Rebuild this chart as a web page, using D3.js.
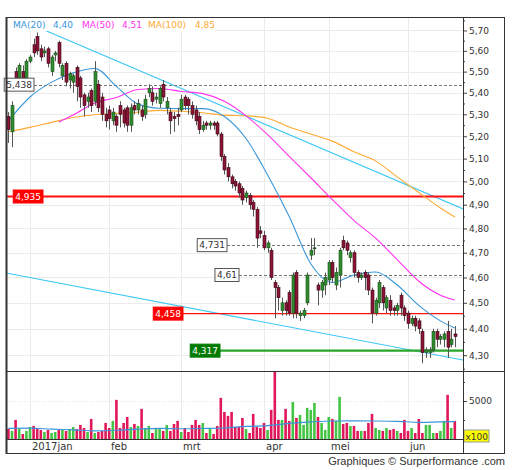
<!DOCTYPE html>
<html><head><meta charset="utf-8">
<script src="https://cdn.jsdelivr.net/npm/d3@7"></script>
<style>body{margin:0;background:#fff} svg{display:block}</style>
</head><body>
<svg id="c" width="512" height="470"></svg>
<script>
// ---------- DATA ----------
const openP = [5.29,5.22,5.50,5.47,5.50,5.47,5.55,5.63,5.67,5.61,
5.59,5.61,5.50,5.58,5.64,5.48,5.54,5.46,5.45,5.52,
5.47,5.39,5.36,5.41,5.36,5.44,5.38,5.30,5.32,5.27,
5.29,5.34,5.32,5.33,5.25,5.34,5.32,5.32,5.30,5.40,
5.40,5.37,5.35,5.44,5.33,5.31,5.29,5.30,5.32,5.38,
5.37,5.34,5.32,5.29,5.23,5.26,5.25,5.26,5.26,5.21,
5.11,5.06,5.02,5.00,4.99,4.97,4.93,4.94,4.91,4.88,
4.79,4.77,4.72,4.71,4.58,4.56,4.47,4.50,4.54,4.46,
4.62,4.45,4.45,4.50,4.69,4.72,4.57,4.55,4.57,4.59,
4.66,4.57,4.61,4.75,4.74,4.68,4.70,4.62,4.60,4.62,
4.61,4.55,4.46,4.50,4.56,4.48,4.51,4.48,4.47,4.53,
4.48,4.46,4.42,4.44,4.43,4.39,4.31,4.31,4.32,4.39,
4.36,4.36,4.39,4.34,4.38];
const highP = [5.31,5.36,5.52,5.54,5.53,5.56,5.58,5.66,5.69,5.63,
5.62,5.62,5.58,5.60,5.65,5.54,5.55,5.50,5.49,5.53,
5.48,5.40,5.40,5.42,5.55,5.46,5.40,5.33,5.34,5.33,
5.30,5.36,5.33,5.34,5.35,5.36,5.37,5.34,5.39,5.44,
5.43,5.40,5.43,5.46,5.38,5.33,5.31,5.33,5.39,5.39,
5.38,5.36,5.34,5.31,5.27,5.27,5.27,5.27,5.27,5.22,
5.12,5.08,5.03,5.01,5.00,4.98,4.96,4.95,4.92,4.89,
4.81,4.79,4.75,4.72,4.59,4.57,4.52,4.51,4.55,4.62,
4.63,4.47,4.48,4.62,4.76,4.76,4.58,4.59,4.62,4.67,
4.67,4.64,4.72,4.77,4.75,4.71,4.71,4.63,4.62,4.63,
4.62,4.56,4.52,4.59,4.57,4.53,4.53,4.49,4.50,4.54,
4.49,4.47,4.45,4.45,4.44,4.40,4.33,4.33,4.40,4.40,
4.38,4.39,4.43,4.40,4.41];
const lowP = [5.17,5.15,5.42,5.45,5.43,5.45,5.54,5.57,5.58,5.55,
5.57,5.52,5.48,5.55,5.52,5.46,5.43,5.42,5.40,5.36,
5.33,5.29,5.33,5.31,5.34,5.31,5.27,5.24,5.23,5.25,
5.22,5.24,5.24,5.22,5.22,5.30,5.30,5.27,5.28,5.38,
5.34,5.35,5.33,5.36,5.30,5.21,5.22,5.25,5.31,5.32,
5.30,5.28,5.25,5.21,5.22,5.23,5.23,5.23,5.20,5.09,
5.03,5.00,4.97,4.96,4.93,4.90,4.91,4.88,4.85,4.72,
4.76,4.71,4.70,4.59,4.44,4.47,4.45,4.45,4.45,4.44,
4.44,4.43,4.44,4.49,4.67,4.69,4.49,4.52,4.53,4.57,
4.58,4.55,4.56,4.71,4.69,4.66,4.60,4.58,4.59,4.55,
4.53,4.42,4.45,4.48,4.47,4.46,4.45,4.45,4.45,4.45,
4.43,4.40,4.41,4.39,4.38,4.27,4.29,4.29,4.31,4.33,
4.34,4.33,4.29,4.33,4.33];
const closeP = [5.23,5.34,5.44,5.53,5.45,5.55,5.57,5.59,5.60,5.57,
5.60,5.54,5.57,5.59,5.54,5.53,5.45,5.49,5.48,5.43,
5.38,5.34,5.38,5.34,5.50,5.33,5.30,5.27,5.28,5.31,
5.25,5.30,5.26,5.25,5.33,5.32,5.35,5.29,5.37,5.42,
5.36,5.38,5.42,5.38,5.36,5.27,5.28,5.29,5.37,5.34,
5.34,5.30,5.27,5.23,5.25,5.25,5.26,5.25,5.21,5.11,
5.05,5.02,4.99,4.98,4.95,4.92,4.95,4.90,4.88,4.76,
4.78,4.72,4.74,4.60,4.56,4.52,4.50,4.47,4.46,4.61,
4.46,4.46,4.47,4.61,4.71,4.72,4.55,4.58,4.60,4.66,
4.60,4.62,4.71,4.72,4.71,4.70,4.62,4.60,4.61,4.60,
4.55,4.46,4.51,4.58,4.50,4.52,4.47,4.47,4.49,4.48,
4.45,4.42,4.44,4.41,4.40,4.31,4.32,4.32,4.39,4.36,
4.37,4.38,4.33,4.36,4.37];
// volume in units of 100 shares
const volume = [1320,1060,2510,1320,660,1060,1580,1720,1450,1190,
920,1190,790,920,1190,1190,1060,1320,1580,1320,
1850,1450,920,2640,790,920,1060,2110,1450,2380,
5150,1450,2110,2900,1580,1980,1720,3960,1450,1720,
790,1450,1450,1060,1850,1060,1980,2380,920,1450,
920,1850,2510,1850,2110,790,1450,660,1720,5410,
3560,3040,3560,1580,1580,2770,1320,790,3300,1580,
1450,2110,1190,3830,8840,2510,2510,3960,2380,4880,
2770,3170,1850,4090,3830,4750,2900,2110,1190,2900,
2640,2380,5540,1980,2110,1720,1720,1060,1060,1060,
2110,3300,1450,1190,1060,1450,1190,1320,1060,790,
2510,1060,1450,790,2640,790,1850,1850,790,790,
1060,2380,5810,1450,2380];

const monthLabels = ["2017jan","feb","mrt","apr","mei","jun"];
const monthStart = [6,28,48,71,89,111];

const ma20Idx = [0,6,12,18,24,30,36,42,48,54,60,66,72,78,84,90,96,102,108,114,120,124];
const ma20 = [5.27,5.38,5.45,5.494,5.515,5.43,5.347,5.328,5.326,5.326,5.29,5.19,5.028,4.85,4.655,4.58,4.61,4.622,4.57,4.49,4.43,4.403];
const ma50Idx = [14,18,24,30,36,42,48,54,60,66,72,78,84,90,96,102,108,114,120,124];
const ma50 = [5.265,5.297,5.352,5.378,5.415,5.42,5.406,5.396,5.36,5.293,5.207,5.11,5.016,4.922,4.833,4.76,4.672,4.585,4.53,4.511];
const ma100Idx = [0,6,12,18,24,30,36,42,48,54,60,66,72,78,84,90,96,102,108,114,120,124];
const ma100 = [5.22,5.24,5.263,5.285,5.298,5.304,5.31,5.318,5.314,5.307,5.296,5.293,5.282,5.242,5.21,5.178,5.13,5.09,5.02,4.952,4.886,4.848];
const volMAIdx = [0,6,12,18,24,30,36,42,48,54,60,66,72,78,84,90,96,102,108,114,120,124];
const volMA = [1400,1420,1300,1200,1080,1150,1300,1400,1350,1380,1450,1650,1750,2050,2250,2370,2380,2370,2330,2200,2250,2280];

const trendHighIdx = [1.5,126.3];
const trendHighVal = [5.767,4.882];
const trendLowIdx = [-0.67,126.3];
const trendLowVal = [4.618,4.282];

const priceTicks = [4.3,4.4,4.5,4.6,4.7,4.8,4.9,5.0,5.1,5.2,5.3,5.4,5.5,5.6,5.7];
const priceMinorTicks = [4.25,4.35,4.45,4.55,4.65,4.75,4.85,4.95,5.05,5.15,5.25,5.35,5.45,5.55,5.65,5.75];
const volTicks = [5000];
const volMinorTicks = [2500,7500];

const dashLevels = [5.438,4.731,4.61];
const redLevels = [4.935,4.458];
const greenLevels = [4.317];

// ---------- LAYOUT ----------
const L=6, R=463, PT=17, PB=371, VB=439, DB=453, OR=505;
const n = closeP.length;
const svg = d3.select("#c");
const x = d3.scaleLinear().domain([0,124]).range([8.4,454.8]);
const y = d3.scaleLog().domain([4.2414,5.767]).range([PB,PT]);
const yv = d3.scaleLinear().domain([0,8947]).range([VB,PB]);
const fmt = v => String(v).replace('.',',');
const FONT = "DejaVu Sans, Verdana, sans-serif";

const defs = svg.append("defs");
defs.append("clipPath").attr("id","cp").append("rect").attr("x",L).attr("y",PT).attr("width",R-L).attr("height",PB-PT);
defs.append("clipPath").attr("id","cv").append("rect").attr("x",L).attr("y",PB).attr("width",R-L).attr("height",VB-PB);

// grid
const grid = svg.append("g");
grid.selectAll(".hg").data(priceTicks).join("line")
  .attr("x1",L).attr("x2",R).attr("y1",d=>Math.round(y(d))+0.5).attr("y2",d=>Math.round(y(d))+0.5)
  .attr("stroke","#ebebeb");
grid.selectAll(".vg").data(monthStart).join("line")
  .attr("x1",d=>Math.round(x(d))+0.5).attr("x2",d=>Math.round(x(d))+0.5).attr("y1",PT).attr("y2",VB)
  .attr("stroke","#ebebeb");
grid.selectAll(".vvg").data(volTicks).join("line")
  .attr("x1",L).attr("x2",R).attr("y1",d=>Math.round(yv(d))+0.5).attr("y2",d=>Math.round(yv(d))+0.5)
  .attr("stroke","#e4e4e4").attr("stroke-dasharray","1,2");

// price panel content
const pp = svg.append("g").attr("clip-path","url(#cp)");
const lineGen = d3.line().x(d=>x(d[0])).y(d=>y(d[1]));
const curveGen = d3.line().x(d=>x(d[0])).y(d=>y(d[1])).curve(d3.curveMonotoneX);

// trendlines
pp.append("path").attr("d",lineGen(d3.zip(trendHighIdx,trendHighVal))).attr("stroke","#3cc8f4").attr("stroke-width",1.1).attr("fill","none");
pp.append("path").attr("d",lineGen(d3.zip(trendLowIdx,trendLowVal))).attr("stroke","#3cc8f4").attr("stroke-width",1.1).attr("fill","none");

// level lines
const dashStart = {5.438: 34, 4.731: 227, 4.61: 239};
dashLevels.forEach(v=>{
  const yy = Math.round(y(v))+0.5;
  pp.append("line").attr("x1",dashStart[v]).attr("x2",R).attr("y1",yy).attr("y2",yy)
    .attr("stroke","#777").attr("stroke-dasharray","3,2");
});
const redStart = {4.935: L, 4.458: 183};
const redWidth = {4.935: 2.2, 4.458: 1.3};
redLevels.forEach(v=>{
  const yy = y(v);
  pp.append("line").attr("x1",redStart[v]).attr("x2",R).attr("y1",yy).attr("y2",yy)
    .attr("stroke","#ff1010").attr("stroke-width",redWidth[v]);
});
greenLevels.forEach(v=>{
  const yy = y(v);
  pp.append("line").attr("x1",220).attr("x2",R).attr("y1",yy).attr("y2",yy)
    .attr("stroke","#2aa52a").attr("stroke-width",2.4);
});

// moving averages
pp.append("path").attr("d",curveGen(d3.zip(ma100Idx,ma100))).attr("stroke","#ffaa33").attr("stroke-width",1.1).attr("fill","none");
pp.append("path").attr("d",curveGen(d3.zip(ma50Idx,ma50))).attr("stroke","#ff33ee").attr("stroke-width",1.1).attr("fill","none");
pp.append("path").attr("d",curveGen(d3.zip(ma20Idx,ma20))).attr("stroke","#3a96d8").attr("stroke-width",1.1).attr("fill","none");

// candles
const data = d3.range(n).map(i=>({i,o:openP[i],h:highP[i],l:lowP[i],c:closeP[i],v:volume[i]}));
const cg = pp.append("g");
cg.selectAll(".w").data(data).join("line")
  .attr("x1",d=>Math.round(x(d.i))+0.5).attr("x2",d=>Math.round(x(d.i))+0.5)
  .attr("y1",d=>y(d.h)).attr("y2",d=>y(d.l)).attr("stroke","#555").attr("stroke-width",1);
cg.selectAll(".b").data(data).join("rect")
  .attr("x",d=>Math.round(x(d.i))-1)
  .attr("width",3)
  .attr("y",d=>y(Math.max(d.o,d.c)))
  .attr("height",d=>Math.max(1,y(Math.min(d.o,d.c))-y(Math.max(d.o,d.c))))
  .attr("fill",d=>d.c>=d.o?"#2e8e2e":"#8c1436")
  .attr("stroke",d=>d.c>=d.o?"#1d4a1d":"#3a0716").attr("stroke-width",0.6);

// level labels
function tag(v, rightX, bg, fg, border){
  const yy = y(v);
  const g = svg.append("g");
  const t = g.append("text").attr("y",yy).attr("dy","0.35em").attr("font-family",FONT).attr("font-size",9)
    .attr("fill",fg).text(fmt(v));
  const w = t.node().getComputedTextLength();
  t.attr("x",rightX-w-2);
  g.insert("rect","text").attr("x",rightX-w-4).attr("y",yy-6.5).attr("width",w+4).attr("height",13)
    .attr("fill",bg).attr("stroke",border).attr("stroke-width",1);
}
tag(5.438, 34, "#fff", "#333", "#555");
tag(4.731, 227, "#fff", "#333", "#555");
tag(4.61, 239, "#fff", "#333", "#555");
tag(4.935, 43, "#ff0000", "#fff", "#ff0000");
tag(4.458, 183, "#ff0000", "#fff", "#ff0000");
tag(4.317, 220, "#007a00", "#fff", "#007a00");

// legend
const lg = svg.append("g");
lg.append("rect").attr("x",L+1).attr("y",PT+1).attr("width",208).attr("height",13).attr("fill","#fff");
const legendItems = [
  {t:"MA(20)", x:13, c:"#3a96d8"},{t:fmt(ma20[ma20.length-1].toFixed(2)), x:53, c:"#3a96d8"},
  {t:"MA(50)", x:82, c:"#ff33ee"},{t:fmt(ma50[ma50.length-1].toFixed(2)), x:122, c:"#ff33ee"},
  {t:"MA(100)", x:148, c:"#ffaa33"},{t:fmt(ma100[ma100.length-1].toFixed(2)), x:195, c:"#ffaa33"}];
lg.selectAll("text").data(legendItems).join("text")
  .attr("x",d=>d.x).attr("y",28).attr("font-family",FONT).attr("font-size",9).attr("fill",d=>d.c).text(d=>d.t);

// volume panel
const vp = svg.append("g").attr("clip-path","url(#cv)");
vp.selectAll(".vb").data(data).join("rect")
  .attr("x",d=>x(d.i)-1.3).attr("width",2.6)
  .attr("y",d=>yv(d.v)).attr("height",d=>VB-yv(d.v))
  .attr("fill",d=>d.c>=d.o?"#44c444":"#e0185a");
vp.append("path").attr("d",d3.line().x(d=>x(d[0])).y(d=>yv(d[1])).curve(d3.curveMonotoneX)(d3.zip(volMAIdx,volMA)))
  .attr("stroke","#3a96d8").attr("stroke-width",1.2).attr("fill","none");

// axes
const ax = svg.append("g").attr("transform",`translate(${R},0)`);
ax.call(d3.axisRight(y).tickValues(priceTicks).tickSize(4).tickPadding(2).tickFormat(d=>fmt(d.toFixed(2))));
const axm = svg.append("g").attr("transform",`translate(${R},0)`);
axm.call(d3.axisRight(y).tickValues(priceMinorTicks).tickSize(2).tickFormat(""));
const axv = svg.append("g").attr("transform",`translate(${R},0)`);
axv.call(d3.axisRight(yv).tickValues(volTicks).tickSize(4).tickPadding(2).tickFormat(d=>d));
const axvm = svg.append("g").attr("transform",`translate(${R},0)`);
axvm.call(d3.axisRight(yv).tickValues(volMinorTicks).tickSize(2).tickFormat(""));
[ax,axm,axv,axvm].forEach(a=>{
  a.select(".domain").remove();
  a.selectAll("line").attr("stroke","#444");
  a.selectAll("text").attr("font-family",FONT).attr("font-size",9).attr("fill","#333");
});

// x100 box
svg.append("rect").attr("x",464).attr("y",430).attr("width",25).attr("height",12).attr("fill","#ffff00").attr("stroke","#999");
svg.append("text").attr("x",465.5).attr("y",439.5).attr("font-family",FONT).attr("font-size",9).attr("fill","#333").text("x100");

// month labels
svg.selectAll(".ml").data(monthStart).join("text")
  .attr("x",d=>Math.round(x(d))+2).attr("y",450).attr("font-family",FONT).attr("font-size",10).attr("fill","#333")
  .text((d,i)=>monthLabels[i]);

// frames
const fr = svg.append("g").attr("stroke","#333").attr("fill","none");
fr.append("rect").attr("x",L+0.5).attr("y",PT+0.5).attr("width",OR-L-1).attr("height",DB-PT);
fr.append("line").attr("x1",R+0.5).attr("x2",R+0.5).attr("y1",PT).attr("y2",DB);
fr.append("line").attr("x1",L).attr("x2",OR).attr("y1",PB+0.5).attr("y2",PB+0.5);
fr.append("line").attr("x1",L).attr("x2",R).attr("y1",VB+0.5).attr("y2",VB+0.5);
fr.append("line").attr("x1",L+0.5).attr("x2",L+0.5).attr("y1",PT).attr("y2",DB+1).attr("stroke-width",2);

// footer
svg.append("text").attr("x",505).attr("y",465).attr("text-anchor","end")
  .attr("font-family","Liberation Sans, Arial, sans-serif").attr("font-size",11).attr("fill","#333")
  .text("Graphiques © Surperformance .com");
</script>
</body></html>
